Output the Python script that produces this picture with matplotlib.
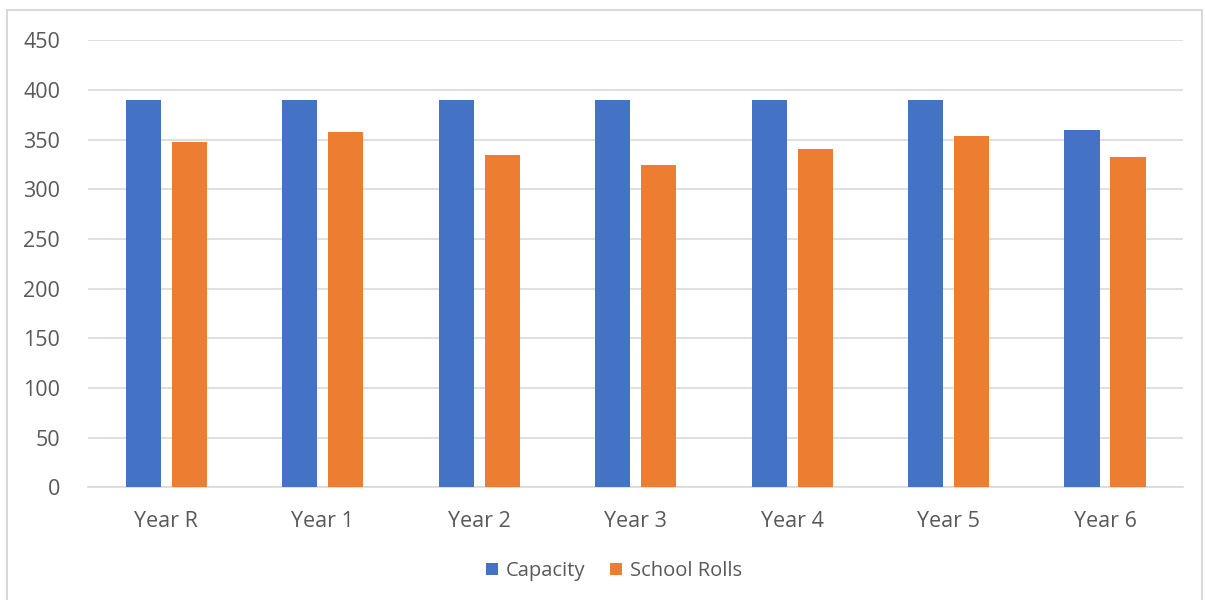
import numpy as np
import matplotlib.pyplot as plt
from matplotlib.patches import Rectangle

categories = ["Year R", "Year 1", "Year 2", "Year 3", "Year 4", "Year 5", "Year 6"]
capacity = [390, 390, 390, 390, 390, 390, 360]
school_rolls = [348, 358, 334, 324, 340, 354, 332]
y_ticks = [0, 50, 100, 150, 200, 250, 300, 350, 400, 450]

plt.rcParams["font.family"] = ["Open Sans", "DejaVu Sans"]
text_color = "#595959"
grid_color = "#d9d9d9"

fig = plt.figure(figsize=(12.05, 6), dpi=100)
ax = fig.add_axes([0.073, 0.188, 0.909, 0.745])

# light frame around the whole chart
fig.patches.append(Rectangle((7 / 1205, -0.02), 1195 / 1205, 1 - 10 / 600 + 0.02,
                             transform=fig.transFigure, fill=False,
                             edgecolor=grid_color, linewidth=1.5))

x = np.arange(len(categories))
width = 0.225
offset = 0.147
ax.bar(x - offset, capacity, width, color="#4472C4", label="Capacity", zorder=3)
ax.bar(x + offset, school_rolls, width, color="#ED7D31", label="School Rolls", zorder=3)

ax.set_xlim(-0.5, len(categories) - 0.5)
ax.set_ylim(0, 450)
ax.set_yticks(y_ticks)
ax.set_xticks(x)
ax.set_xticklabels(categories)
ax.tick_params(axis="both", length=0, labelsize=15.5, colors=text_color)
ax.tick_params(axis="y", pad=20)
ax.tick_params(axis="x", pad=17)

ax.grid(axis="y", color=grid_color, linewidth=1.2, zorder=0)
for side in ["top", "right", "left"]:
    ax.spines[side].set_visible(False)
ax.spines["bottom"].set_color(grid_color)
ax.spines["bottom"].set_linewidth(1.2)

ax.legend(loc="upper center", bbox_to_anchor=(0.48, -0.125), ncol=2, frameon=False,
          fontsize=14.5, labelcolor=text_color, handlelength=0.6, handleheight=0.6,
          handletextpad=0.4, columnspacing=1.2)

fig.savefig("out.png", dpi=100)
